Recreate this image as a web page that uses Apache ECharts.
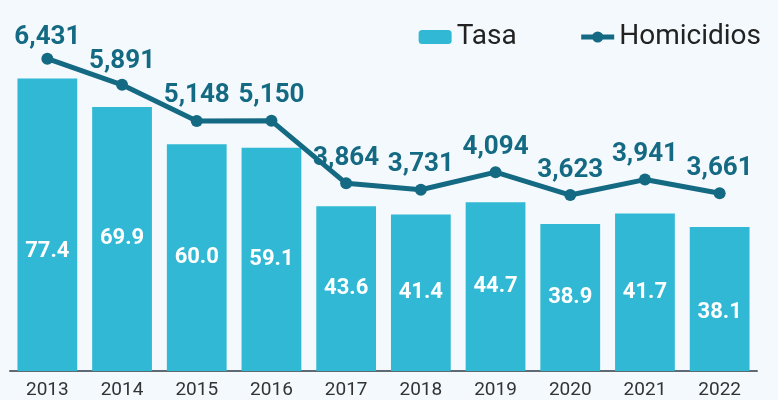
<!DOCTYPE html>
<html>
<head>
<meta charset="utf-8">
<script src="https://cdn.jsdelivr.net/npm/echarts@6/dist/echarts.min.js"></script>
<style>
  html, body { margin: 0; padding: 0; background: #f3f9fc; }
  #chart { width: 778px; height: 400px; }
</style>
</head>
<body>
<div id="chart"></div>
<script>
const years = ['2013', '2014', '2015', '2016', '2017', '2018', '2019', '2020', '2021', '2022'];
const tasa = [77.4, 69.9, 60.0, 59.1, 43.6, 41.4, 44.7, 38.9, 41.7, 38.1];
const homicidios = [6431, 5891, 5148, 5150, 3864, 3731, 4094, 3623, 3941, 3661];

const chart = echarts.init(document.getElementById('chart'));

// a few labels sit off their usual spot in the original
const barLabelNudge = { 0: 27, 9: 13 };
const lineLabelNudge = { 0: 4, 1: 2 };

const option = {
    backgroundColor: '#f3f9fc',
    textStyle: { fontFamily: 'Roboto' },
    legend: {
        right: 12,
        top: 18,
        itemWidth: 33,
        itemHeight: 14,
        itemGap: 62,
        textStyle: { fontSize: 28, color: '#222', fontFamily: 'Roboto' },
        data: [
            { name: 'Tasa' },
            { name: 'Homicidios', lineStyle: { width: 5 } }
        ]
    },
    grid: { left: 10, right: 21, top: 31, bottom: 29 },
    xAxis: {
        type: 'category',
        data: years,
        axisTick: { show: false },
        axisLine: { lineStyle: { color: '#5f6b73', width: 2 } },
        axisLabel: { color: '#333', fontSize: 19, margin: 10 }
    },
    yAxis: [
        { type: 'value', min: 0, max: 90, show: false },
        { type: 'value', min: 0, max: 7000, show: false }
    ],
    series: [
        {
            name: 'Tasa',
            type: 'bar',
            barCategoryGap: '20%',
            itemStyle: { color: '#30b8d4' },
            data: tasa.map(function(v, i) {
                const item = { value: v };
                if (barLabelNudge[i]) item.label = { offset: [0, barLabelNudge[i]] };
                return item;
            }),
            label: {
                show: true,
                position: 'inside',
                color: '#fff',
                fontWeight: 'bold',
                fontSize: 22,
                formatter: function(p) { return p.value.toFixed(1); }
            }
        },
        {
            name: 'Homicidios',
            type: 'line',
            yAxisIndex: 1,
            data: homicidios.map(function(v, i) {
                const item = { value: v };
                if (lineLabelNudge[i]) item.label = { offset: [0, lineLabelNudge[i]] };
                return item;
            }),
            symbol: 'circle',
            symbolSize: 12,
            lineStyle: { color: '#156a83', width: 5 },
            itemStyle: { color: '#156a83' },
            label: {
                show: true,
                position: 'top',
                distance: 6,
                color: '#156a83',
                fontWeight: 'bold',
                fontSize: 26,
                formatter: function(p) { return p.value.toLocaleString('en-US'); }
            }
        }
    ]
};
chart.setOption(option);
</script>
</body>
</html>
